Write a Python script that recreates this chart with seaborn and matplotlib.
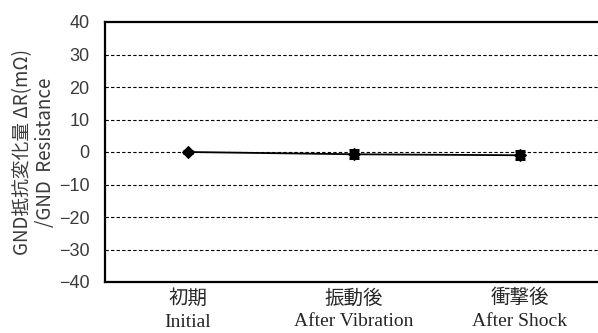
import matplotlib
matplotlib.use("Agg")
import matplotlib.pyplot as plt
import seaborn as sns
import pandas as pd

# GND resistance change per test stage
stages_jp = ["初期", "振動後", "衝撃後"]
stages_en = ["Initial", "After Vibration", "After Shock"]
delta_r = [0.0, -0.7, -1.0]
delta_r_err = [0.3, 1.2, 1.2]
y_ticks = [-40, -30, -20, -10, 0, 10, 20, 30, 40]

sns.set_theme(style="white")
plt.rcParams["font.family"] = ["Liberation Serif", "Noto Sans CJK JP"]
plt.rcParams["axes.unicode_minus"] = True

fig = plt.figure(figsize=(5.98, 3.33), dpi=100)
ax = fig.add_axes([105 / 598, 1 - 282 / 333, 498 / 598, 260 / 333])

df = pd.DataFrame({"stage": [0, 1, 2], "delta": delta_r})
sns.lineplot(data=df, x="stage", y="delta", ax=ax, color="black",
             marker="D", markersize=6.5, linewidth=1.3, markeredgecolor="black")
ax.errorbar(df["stage"], df["delta"], yerr=delta_r_err, fmt="none",
            ecolor="black", elinewidth=2.2, capsize=3.5, capthick=2.2)

ax.set_xlim(-0.5, 2.5)
ax.set_ylim(-40, 40)
ax.set_yticks(y_ticks)
ax.set_yticklabels([f"{v}".replace("-", "\u2212") for v in y_ticks],
                   family=["Liberation Sans", "DejaVu Sans"], fontsize=13,
                   color="#3a3a3a")
ax.set_xticks([0, 1, 2])
ax.set_xticklabels([f"{j}\n{e}" for j, e in zip(stages_jp, stages_en)],
                   fontsize=14, linespacing=1.45,
                   family=["Liberation Serif", "Noto Sans CJK JP"])
ax.tick_params(axis="x", length=0, pad=5)
ax.tick_params(axis="y", length=0, pad=11)

for v in y_ticks[1:-1]:
    ax.axhline(v, color="black", linestyle=(0, (3, 2)), linewidth=0.8, zorder=0)

for side in ["left", "top", "bottom"]:
    ax.spines[side].set_color("black")
    ax.spines[side].set_linewidth(1.6)
ax.spines["right"].set_visible(False)

ax.set_xlabel("")
ax.set_ylabel("GND抵抗変化量 ΔR(mΩ)\n/GND  Resistance", fontsize=13.5,
              family=["Noto Sans CJK JP", "DejaVu Sans"], linespacing=1.15,
              color="#3a3a3a", labelpad=2)

fig.savefig("out.png", dpi=100)
